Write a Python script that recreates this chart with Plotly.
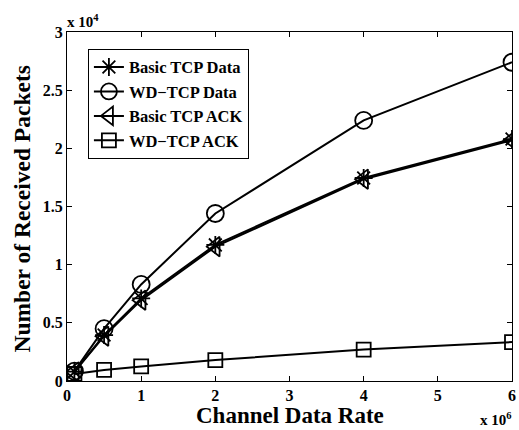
import plotly.graph_objects as go

rate = [0.1e6, 0.5e6, 1e6, 2e6, 4e6, 6e6]
basic_data = [800, 3950, 7100, 11700, 17450, 20800]
wd_data = [850, 4500, 8300, 14400, 22400, 27400]
basic_ack = [780, 3850, 6950, 11550, 17350, 20700]
wd_ack = [600, 950, 1250, 1800, 2700, 3350]

x_ticks = [0, 1e6, 2e6, 3e6, 4e6, 5e6, 6e6]
x_labels = ["0", "1", "2", "3", "4", "5", "6"]
y_ticks = [0, 5000, 10000, 15000, 20000, 25000, 30000]
y_labels = ["0", "0.5", "1", "1.5", "2", "2.5", "3"]

names = ["Basic TCP Data", "WD\u2212TCP Data", "Basic TCP ACK", "WD\u2212TCP ACK"]
series = [basic_data, wd_data, basic_ack, wd_ack]
symbols = ["asterisk-open", "circle-open", "triangle-left-open", "square-open"]
sizes = [15, 17, 17, 14]

FONT = "Liberation Serif"
fig = go.Figure()
for n, s, sym, sz in zip(names, series, symbols, sizes):
    fig.add_trace(go.Scatter(
        x=rate, y=s, name="<b>" + n + "</b>", mode="lines+markers",
        line=dict(color="black", width=2),
        marker=dict(symbol=sym, size=sz, color="black", line=dict(color="black", width=1.8)),
    ))

axis_common = dict(
    showgrid=False, zeroline=False, showline=True, linecolor="black", linewidth=1.3,
    mirror="ticks", ticks="inside", ticklen=5, tickcolor="black", tickwidth=1,
    tickfont=dict(family=FONT, size=16, color="black"), automargin=False,
)
fig.update_xaxes(range=[0, 6e6], tickvals=x_ticks,
                 ticktext=["<b>" + t + "</b>" for t in x_labels], **axis_common)
fig.update_yaxes(range=[0, 30000], tickvals=y_ticks,
                 ticktext=["<b>" + t + "</b>" for t in y_labels], **axis_common)

fig.add_annotation(text="<b>Channel Data Rate</b>", xref="paper", yref="paper", x=0.5, y=0,
                   xanchor="center", yanchor="top", showarrow=False, yshift=-20,
                   font=dict(family=FONT, size=23, color="black"))
fig.add_annotation(text="<b>Number of Received Packets</b>", xref="paper", yref="paper", x=0, y=0.5,
                   xanchor="right", yanchor="middle", showarrow=False, xshift=-31, yshift=-3,
                   textangle=-90,
                   font=dict(family=FONT, size=23.5, color="black"))
fig.add_annotation(text="<b>x 10<sup>4</sup></b>", xref="paper", yref="paper", x=0, y=1.0,
                   xanchor="left", yanchor="bottom", showarrow=False, yshift=0, xshift=-2,
                   font=dict(family=FONT, size=15, color="black"))
fig.add_annotation(text="<b>x 10<sup>6</sup></b>", xref="paper", yref="paper", x=1.0, y=0,
                   xanchor="right", yanchor="top", showarrow=False, yshift=-27, xshift=2,
                   font=dict(family=FONT, size=15, color="black"))
fig.update_layout(
    width=519, height=430,
    margin=dict(l=67, r=7, t=32, b=49),
    paper_bgcolor="white", plot_bgcolor="white",
    legend=dict(x=0.047, y=0.952, xanchor="left", yanchor="top",
                bordercolor="black", borderwidth=1, bgcolor="white",
                font=dict(family=FONT, size=16.5, color="black"),
                tracegroupgap=0, itemwidth=30),
    showlegend=True,
)
fig.write_html("out.html", config={"displayModeBar": False},
               post_script="document.body.style.margin='0';")
